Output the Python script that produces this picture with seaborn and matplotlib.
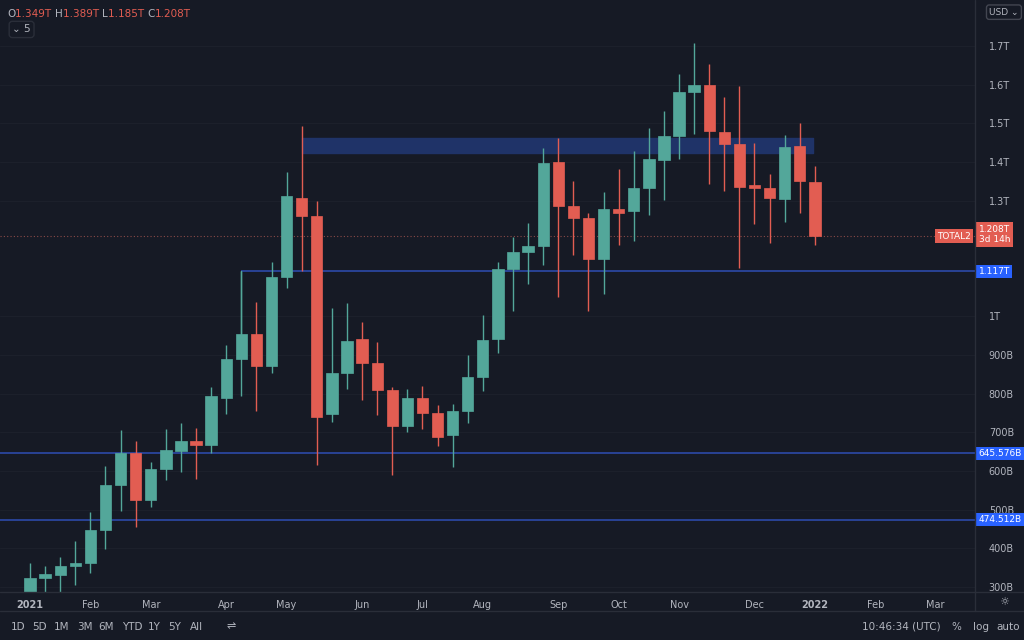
import matplotlib
matplotlib.use("Agg")
import matplotlib.pyplot as plt
import matplotlib.transforms as mtransforms
import seaborn as sns
import pandas as pd

# weekly candles, values in trillions
opens = [0.277, 0.324, 0.332, 0.353, 0.361, 0.447, 0.563, 0.647, 0.525, 0.606,
         0.653, 0.678, 0.667, 0.789, 0.890, 0.955, 0.873, 1.103, 1.307, 1.260,
         0.748, 0.853, 0.941, 0.879, 0.809, 0.716, 0.788, 0.750, 0.693, 0.755,
         0.843, 0.941, 1.122, 1.168, 1.183, 1.399, 1.286, 1.254, 1.148, 1.279,
         1.273, 1.333, 1.405, 1.468, 1.581, 1.598, 1.477, 1.447, 1.339, 1.332,
         1.303, 1.440, 1.349]
highs = [0.362, 0.354, 0.377, 0.419, 0.493, 0.613, 0.706, 0.677, 0.623, 0.709,
         0.724, 0.712, 0.817, 0.925, 1.117, 1.037, 1.142, 1.373, 1.493, 1.298,
         1.021, 1.034, 0.985, 0.935, 0.818, 0.812, 0.820, 0.771, 0.773, 0.900,
         1.005, 1.142, 1.206, 1.241, 1.437, 1.462, 1.351, 1.269, 1.321, 1.382,
         1.429, 1.489, 1.533, 1.628, 1.709, 1.653, 1.567, 1.596, 1.448, 1.369,
         1.470, 1.501, 1.389]
lows = [0.266, 0.287, 0.287, 0.306, 0.337, 0.399, 0.497, 0.456, 0.508, 0.577,
        0.598, 0.579, 0.648, 0.748, 0.793, 0.756, 0.853, 1.073, 1.118, 0.616,
        0.726, 0.812, 0.784, 0.744, 0.590, 0.700, 0.710, 0.666, 0.611, 0.725,
        0.808, 0.905, 1.014, 1.084, 1.132, 1.050, 1.159, 1.015, 1.058, 1.185,
        1.195, 1.263, 1.301, 1.408, 1.473, 1.343, 1.325, 1.126, 1.239, 1.189,
        1.245, 1.269, 1.185]
closes = [0.324, 0.333, 0.353, 0.362, 0.447, 0.563, 0.647, 0.524, 0.606, 0.654,
          0.677, 0.667, 0.793, 0.891, 0.955, 0.873, 1.103, 1.313, 1.261, 0.741,
          0.853, 0.937, 0.879, 0.809, 0.716, 0.788, 0.749, 0.689, 0.755, 0.843,
          0.940, 1.122, 1.166, 1.182, 1.397, 1.286, 1.254, 1.150, 1.279, 1.267,
          1.333, 1.407, 1.467, 1.581, 1.598, 1.479, 1.447, 1.336, 1.333, 1.306,
          1.438, 1.350, 1.208]

y_ticks = [0.3, 0.4, 0.5, 0.6, 0.7, 0.8, 0.9, 1.0, 1.3, 1.4, 1.5, 1.6, 1.7]
y_labels = ["300B", "400B", "500B", "600B", "700B", "800B", "900B", "1T",
            "1.3T", "1.4T", "1.5T", "1.6T", "1.7T"]
month_pos = [0, 4, 8, 13, 17, 22, 26, 30, 35, 39, 43, 48, 52, 56, 60]
month_labels = ["2021", "Feb", "Mar", "Apr", "May", "Jun", "Jul", "Aug", "Sep",
                "Oct", "Nov", "Dec", "2022", "Feb", "Mar"]
levels = [1.117, 0.645576, 0.474512]
level_labels = ["1.117T", "645.576B", "474.512B"]
zone_low, zone_high = 1.423, 1.462
last_price = 1.208

BG = "#161a25"
UP = "#53a79a"
DOWN = "#e25d52"
TXT = "#b2b5be"

df = pd.DataFrame({"open": opens, "high": highs, "low": lows, "close": closes})
df["idx"] = range(len(df))
df["up"] = df["close"] >= df["open"]

sns.set_style("dark", {"axes.facecolor": BG, "figure.facecolor": BG})
plt.rcParams["font.family"] = ["DejaVu Sans"]

fig = plt.figure(figsize=(10.24, 6.4), dpi=100)
ax = fig.add_axes([0, 0.075, 0.952, 0.925])
ax.set_facecolor(BG)

for y in y_ticks:
    ax.axhline(y, color="#1c202b", lw=0.8, zorder=0)

# zone and levels
ax.fill_between([18, 51.85], zone_low, zone_high, color="#1f3368", zorder=1)
ax.plot([14, 14], [0.955, levels[0]], color=UP, lw=1, zorder=2)
ax.hlines(levels[0], 14, 70, color="#2c4aa8", lw=1.2, zorder=1)
ax.axhline(levels[1], color="#2c4aa8", lw=1.2, zorder=1)
ax.axhline(levels[2], color="#2c4aa8", lw=1.2, zorder=1)
ax.axhline(last_price, color="#8a4a48", lw=0.8, ls=(0, (1, 2)), zorder=1)

colors = [UP if u else DOWN for u in df["up"]]
ax.vlines(df["idx"], df["low"], df["high"], colors=colors, lw=1, zorder=3)
bottoms = df[["open", "close"]].min(axis=1)
heights = (df["close"] - df["open"]).abs().clip(lower=0.004)
ax.bar(df["idx"], heights, bottom=bottoms, width=0.75, color=colors,
       edgecolor=colors, lw=0.5, zorder=4)

ax.set_xlim(-1.99, 62.6)
ax.set_ylim(0.287, 1.819)
ax.yaxis.tick_right()
ax.set_yticks(y_ticks)
ax.set_yticklabels(y_labels)
ax.tick_params(axis="y", length=0, labelsize=7, colors=TXT, pad=10)
ax.set_xticks(month_pos)
ax.set_xticklabels(month_labels)
for lab in ax.get_xticklabels():
    if lab.get_text() in ("2021", "2022"):
        lab.set_fontweight("bold")
ax.tick_params(axis="x", length=0, labelsize=7, colors=TXT, pad=6)
for s in ax.spines.values():
    s.set_visible(False)
ax.grid(False)

# right axis separator and bottom separators
fig.add_artist(plt.Line2D([0.952, 0.952], [0.045, 1], color="#2a2e39", lw=1))
fig.add_artist(plt.Line2D([0, 1], [0.075, 0.075], color="#2a2e39", lw=1))
fig.add_artist(plt.Line2D([0, 1], [0.045, 0.045], color="#2a2e39", lw=1))

trans = mtransforms.blended_transform_factory(ax.transAxes, ax.transData)
for v, lab in zip(levels, level_labels):
    ax.text(1.004, v, lab, transform=trans, fontsize=6.5, color="white",
            va="center", ha="left", clip_on=False,
            bbox=dict(boxstyle="square,pad=0.25", fc="#2962ff", ec="none"))
ax.text(1.004, last_price + 0.004, "1.208T\n3d 14h", transform=trans, fontsize=6.5,
        color="white", va="center", ha="left", clip_on=False, linespacing=1.2,
        bbox=dict(boxstyle="square,pad=0.3", fc=DOWN, ec="none"))
ax.text(0.996, last_price, "TOTAL2", transform=trans, fontsize=6.5, color="white",
        va="center", ha="right",
        bbox=dict(boxstyle="square,pad=0.25", fc=DOWN, ec="none"))

# legend text top-left
x0 = 0.007
for part, col in [("O", TXT), ("1.349T ", DOWN), ("H", TXT), ("1.389T ", DOWN),
                  ("L", TXT), ("1.185T ", DOWN), ("C", TXT), ("1.208T", DOWN)]:
    t = fig.text(x0, 0.978, part, fontsize=7.5, color=col, va="center")
    fig.canvas.draw()
    x0 += t.get_window_extent().width / fig.bbox.width
fig.text(0.012, 0.954, "⌄ 5", fontsize=7.5, color=TXT, va="center",
         bbox=dict(boxstyle="round,pad=0.3", fc=BG, ec="#2a2e39"))
fig.text(0.966, 0.981, "USD ⌄", fontsize=6.5, color=TXT, va="center",
         bbox=dict(boxstyle="round,pad=0.3", fc=BG, ec="#434651"))

# bottom toolbar
for xs, lab in zip([0.011, 0.031, 0.053, 0.075, 0.096, 0.119, 0.144, 0.164, 0.185],
                   ["1D", "5D", "1M", "3M", "6M", "YTD", "1Y", "5Y", "All"]):
    fig.text(xs, 0.021, lab, fontsize=7.5, color=TXT, va="center")
fig.text(0.221, 0.021, "⇌", fontsize=8, color=TXT, va="center")
fig.text(0.842, 0.021, "10:46:34 (UTC)", fontsize=7.5, color=TXT, va="center")
fig.text(0.929, 0.021, "%", fontsize=7.5, color=TXT, va="center")
fig.text(0.950, 0.021, "log", fontsize=7.5, color=TXT, va="center")
fig.text(0.973, 0.021, "auto", fontsize=7.5, color=TXT, va="center")
fig.text(0.976, 0.059, "☼", fontsize=8, color=TXT, va="center")

fig.savefig("out.png", dpi=100, facecolor=BG)
